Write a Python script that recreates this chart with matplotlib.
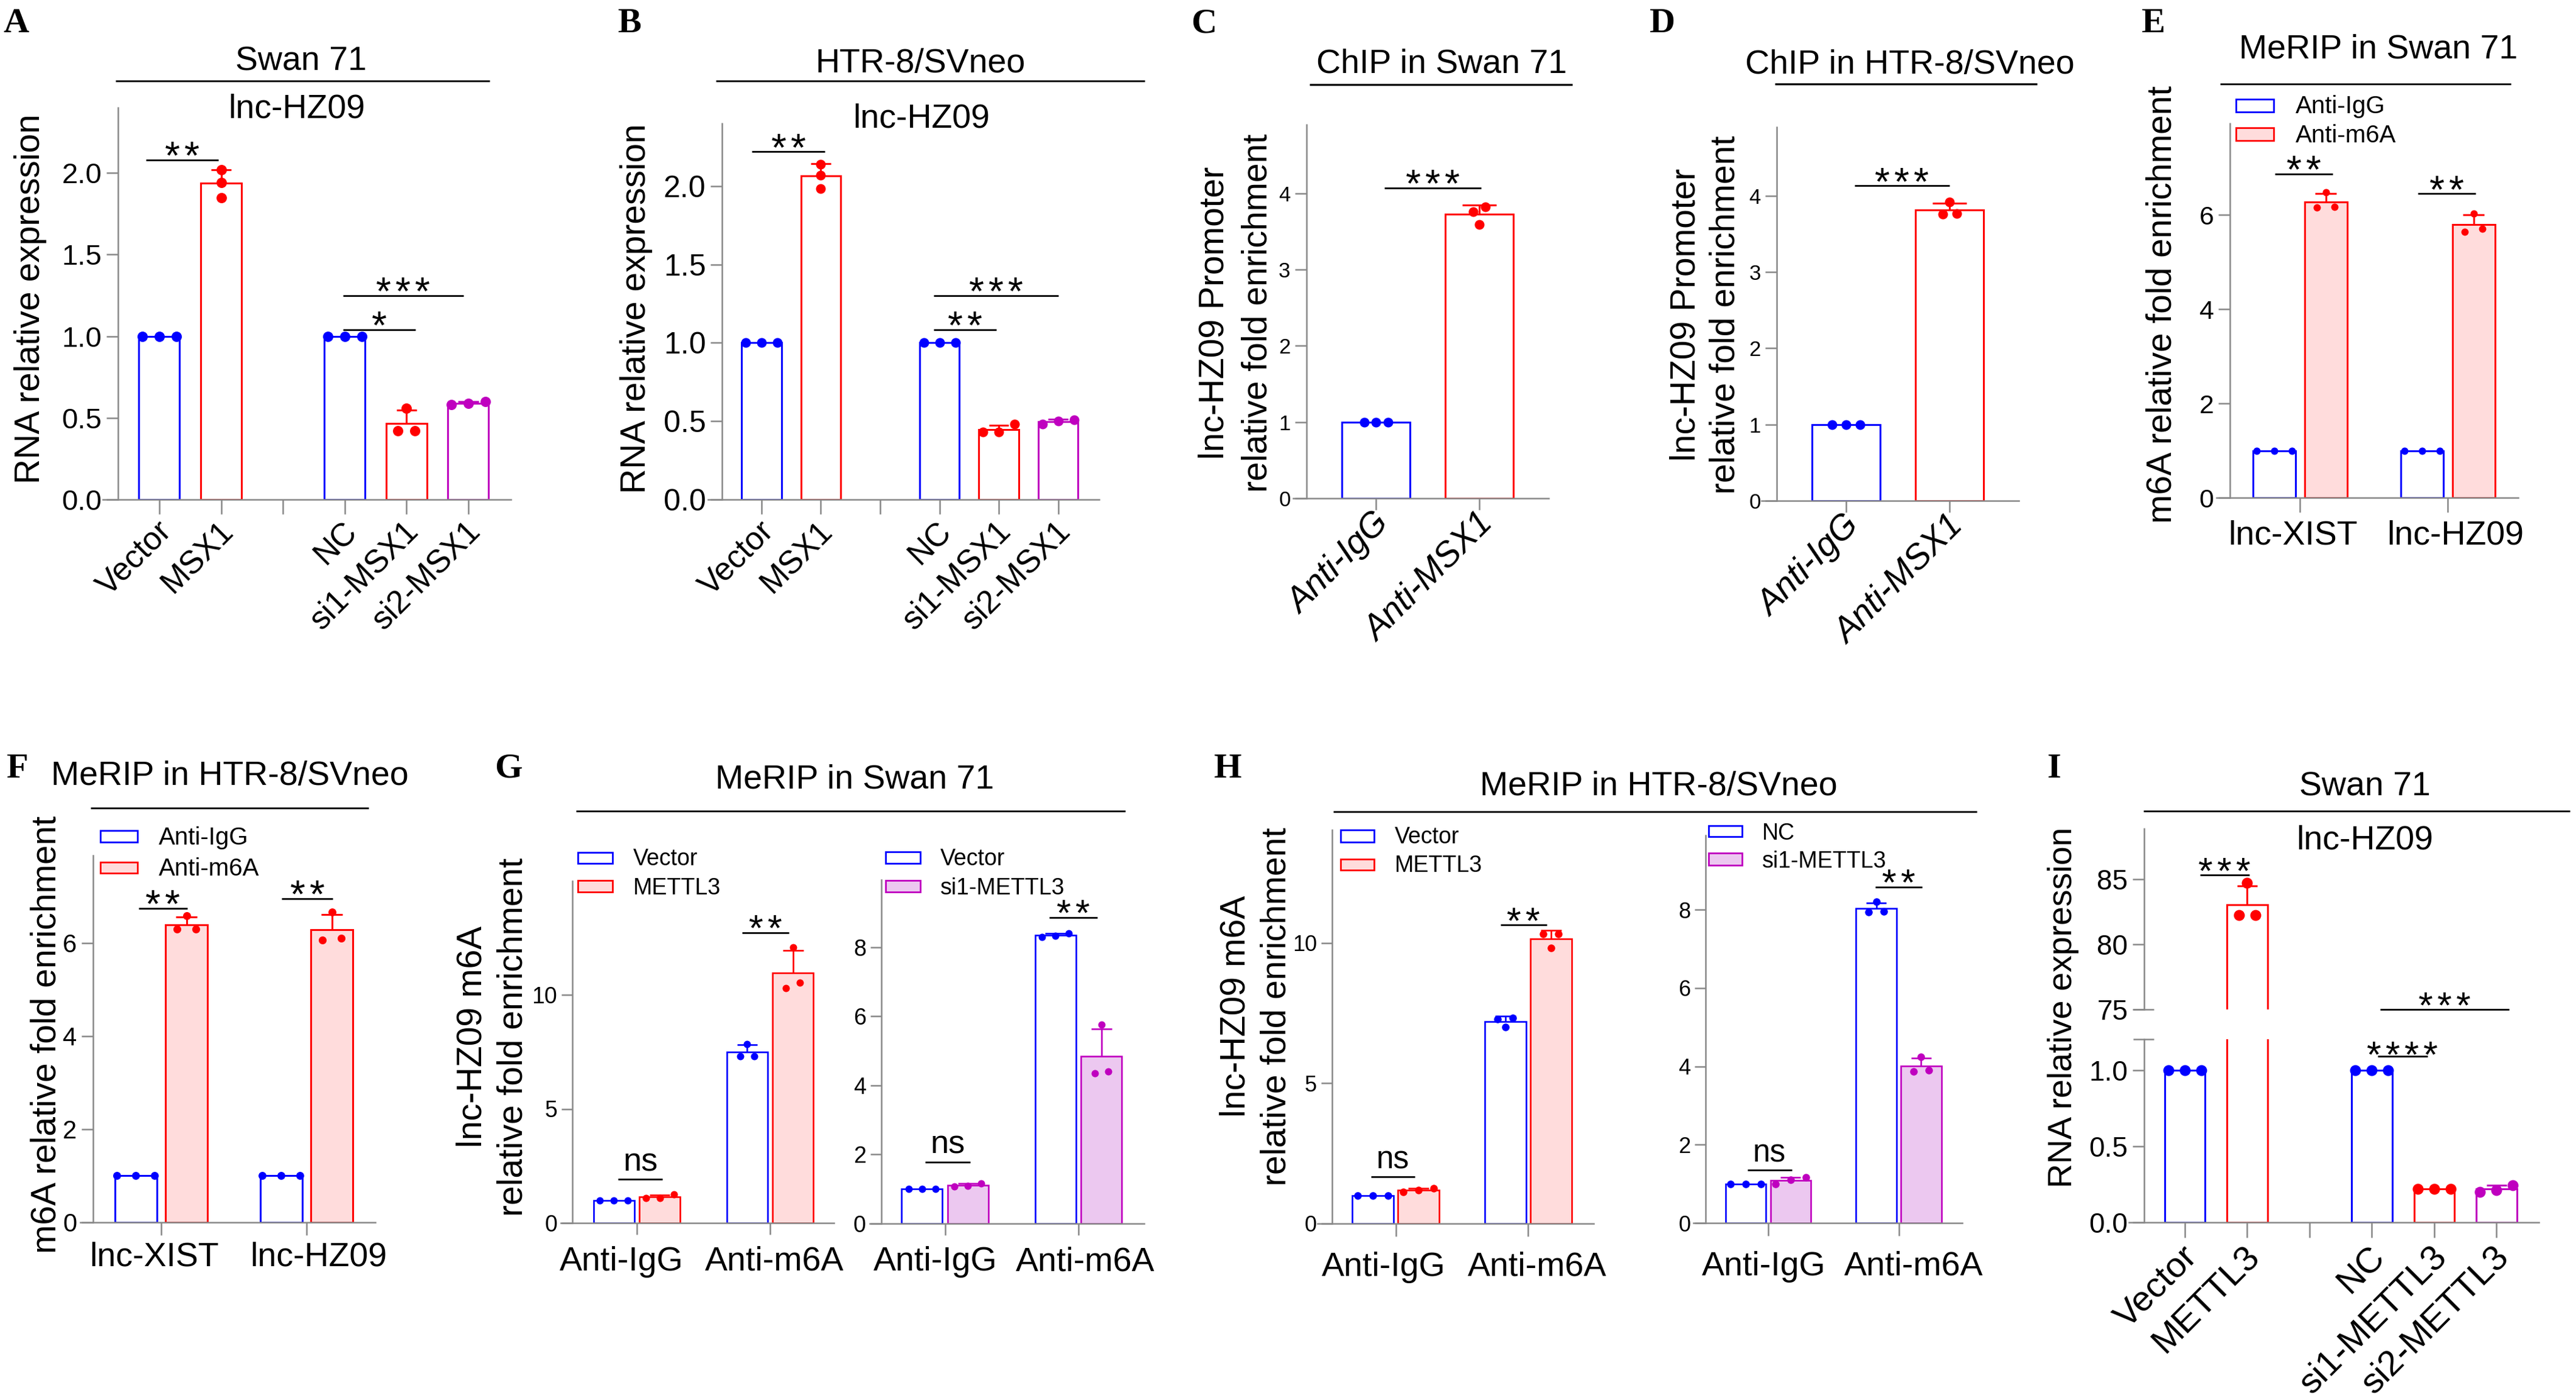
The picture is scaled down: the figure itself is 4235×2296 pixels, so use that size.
import numpy as np
import matplotlib
matplotlib.use('Agg')
import matplotlib.pyplot as plt
from matplotlib.patches import Rectangle
from matplotlib.lines import Line2D
from matplotlib.transforms import ScaledTranslation

plt.rcParams['font.family'] = ['Liberation Sans', 'DejaVu Sans']
plt.rcParams['axes.unicode_minus'] = False

# ======================= DATA =======================
A_labels = ['Vector', 'MSX1', 'NC', 'si1-MSX1', 'si2-MSX1']
A_values = [[1.0, 1.0, 1.0], [2.02, 1.94, 1.85], [1.0, 1.0, 1.0], [0.56, 0.42, 0.42], [0.58, 0.60, 0.59]]
A_sig = [('**', -0.22, 0.96, 2.08), ('***', 2.97, 4.92, 1.25), ('*', 2.97, 4.14, 1.04)]

B_labels = ['Vector', 'MSX1', 'NC', 'si1-MSX1', 'si2-MSX1']
B_values = [[1.0, 1.0, 1.0], [2.14, 2.07, 1.985], [1.0, 1.0, 1.0], [0.48, 0.43, 0.43], [0.48, 0.51, 0.50]]
B_sig = [('**', -0.16, 1.07, 2.22), ('***', 2.9, 5.0, 1.30), ('**', 2.9, 3.96, 1.085)]

C_labels = ['Anti-IgG', 'Anti-MSX1']
C_values = [[1.0, 1.0, 1.0], [3.82, 3.76, 3.59]]
C_sig = [('***', 0.08, 1.02, 4.07)]

D_labels = ['Anti-IgG', 'Anti-MSX1']
D_values = [[1.0, 1.0, 1.0], [3.92, 3.77, 3.76]]
D_sig = [('***', 0.08, 1.0, 4.13)]

E_groups = ['lnc-XIST', 'lnc-HZ09']
E_series = ['Anti-IgG', 'Anti-m6A']
E_igg = [[1.0, 1.0, 1.0], [1.0, 1.0, 1.0]]
E_m6a = [[6.48, 6.16, 6.17], [6.03, 5.64, 5.71]]
E_sig = [('**', -0.17, 0.22, 6.87), ('**', 0.80, 1.19, 6.45)]

F_groups = ['lnc-XIST', 'lnc-HZ09']
F_series = ['Anti-IgG', 'Anti-m6A']
F_igg = [[1.0, 1.0, 1.0], [1.0, 1.0, 1.0]]
F_m6a = [[6.59, 6.30, 6.30], [6.67, 6.07, 6.10]]
F_sig = [('**', -0.155, 0.18, 6.74), ('**', 0.83, 1.18, 6.95)]

G_groups = ['Anti-IgG', 'Anti-m6A']
G1_series = ['Vector', 'METTL3']
G1_vector = [[1.0, 1.0, 1.0], [7.85, 7.32, 7.32]]
G1_mettl3 = [[1.10, 1.25, 1.10], [12.08, 10.30, 10.53]]
G1_sig = [('ns', -0.14, 0.19, 1.91), ('**', 0.79, 1.14, 12.73)]
G2_series = ['Vector', 'si1-METTL3']
G2_vector = [[1.0, 1.0, 1.0], [8.30, 8.40, 8.33]]
G2_si1 = [[1.07, 1.17, 1.10], [5.76, 4.35, 4.40]]
G2_sig = [('ns', -0.15, 0.19, 1.78), ('**', 0.78, 1.14, 8.86)]

H_groups = ['Anti-IgG', 'Anti-m6A']
H1_series = ['Vector', 'METTL3']
H1_vector = [[1.0, 1.0, 1.0], [7.33, 7.29, 7.00]]
H1_mettl3 = [[1.12, 1.25, 1.20], [10.32, 10.32, 9.82]]
H1_sig = [('ns', -0.185, 0.144, 1.67), ('**', 0.79, 1.14, 10.64)]
H2_series = ['NC', 'si1-METTL3']
H2_nc = [[1.0, 1.0, 1.0], [8.20, 7.94, 7.95]]
H2_si1 = [[1.16, 1.00, 1.10], [4.24, 3.87, 3.90]]
H2_sig = [('ns', -0.16, 0.18, 1.35), ('**', 0.82, 1.18, 8.58)]

I_labels = ['Vector', 'METTL3', 'NC', 'si1-METTL3', 'si2-METTL3']
I_values = [[1.0, 1.0, 1.0], [84.72, 82.25, 82.25], [1.0, 1.0, 1.0], [0.22, 0.22, 0.22], [0.20, 0.245, 0.21]]
I_sig_upper = [('***', 0.24, 1.03, 85.34), ('***', 3.13, 5.2, 75.0)]
I_sig_lower = [('****', 3.09, 3.89, 1.09)]

# ======================= STYLE / HELPERS =======================
W, H, DPI = 4235, 2296, 100
fig = plt.figure(figsize=(W / DPI, H / DPI), dpi=DPI)
fig.patch.set_facecolor('white')

BLUE = '#0000FF'; RED = '#FF0000'; MAG = '#BF00BF'
PINK = '#FFDCDC'; VIOL = '#ECC8F0'; GRAY = '#888888'
SP_LW = 1.8


def setup_ax(rect, xlim, ylim, spine_x, yticks, yticklabels, yfs, xtl=14, ytl=14, show_bottom=True):
    l, r, t, b = rect
    ax = fig.add_axes([l / W, 1 - b / H, (r - l) / W, (b - t) / H])
    ax.set_xlim(*xlim)
    ax.set_ylim(*ylim)
    ax.patch.set_visible(False)
    ax.spines['top'].set_visible(False)
    ax.spines['right'].set_visible(False)
    ax.spines['left'].set_position(('data', spine_x))
    for s in ('left', 'bottom'):
        ax.spines[s].set_color(GRAY)
        ax.spines[s].set_linewidth(SP_LW)
    if not show_bottom:
        ax.spines['bottom'].set_visible(False)
        ax.set_xticks([])
    ax.set_yticks(yticks)
    ax.set_yticklabels(yticklabels)
    ax.tick_params(axis='y', length=ytl, width=SP_LW, color=GRAY, labelsize=yfs, pad=5)
    ax.tick_params(axis='x', length=xtl, width=SP_LW, color=GRAY)
    return ax


def px_scale(ax):
    p0 = ax.transData.transform((0.0, 0.0))
    p1 = ax.transData.transform((1.0, 1.0))
    return p1[0] - p0[0], p1[1] - p0[1]


def jitter(v, thr):
    order = np.argsort(v)
    offs = np.zeros(len(v))
    groups, cur = [], [order[0]]
    for i in order[1:]:
        if v[i] - v[cur[-1]] < thr:
            cur.append(i)
        else:
            groups.append(cur)
            cur = [i]
    groups.append(cur)
    for g in groups:
        n = len(g)
        o = np.arange(n) - (n - 1) / 2.0
        for k, idx in enumerate(g):
            offs[idx] = o[k]
    return offs


def bar(ax, x, vals, color, fill, width, dot_px, spread_px, lw=2.2):
    v = np.asarray(vals, float)
    m = v.mean()
    sd = v.std(ddof=1)
    sx, sy = px_scale(ax)
    ax.bar(x, m, width, color=fill, edgecolor=color, linewidth=lw, zorder=2)
    if sd > 1e-6:
        ax.plot([x, x], [m, m + sd], color=color, lw=lw, zorder=3, solid_capstyle='butt')
        ax.plot([x - 0.25 * width, x + 0.25 * width], [m + sd, m + sd], color=color, lw=lw,
                zorder=3, solid_capstyle='butt')
    offs = jitter(v, dot_px / sy) * spread_px / sx
    ax.plot(x + offs, v, linestyle='none', marker='o', color=color, ms=dot_px * 0.72,
            mec='none', zorder=4)


def sig(ax, items, fs=46, pitch_px=32, above_px=22, fs_ns=38, lw=2.0):
    em = fs / 0.72
    for txt, x1, x2, y in items:
        ax.plot([x1, x2], [y, y], color='black', lw=lw, clip_on=False, solid_capstyle='butt', zorder=5)
        xc = (x1 + x2) / 2
        if txt == 'ns':
            ax.annotate(txt, (xc, y), xytext=(0, 0.26 * fs_ns), textcoords='offset points',
                        ha='center', va='baseline', fontsize=fs_ns, annotation_clip=False)
        else:
            n = len(txt)
            for k in range(n):
                dx = (k - (n - 1) / 2.0) * pitch_px * 0.72
                dy = (above_px - 0.57 * em) * 0.72
                ax.annotate('*', (xc, y), xytext=(dx, dy), textcoords='offset points',
                            ha='center', va='baseline', fontsize=fs, annotation_clip=False)


def rot_labels(ax, pos, labels, fs, pad, dx_px, italic=False):
    ax.set_xticks(pos)
    ax.tick_params(axis='x', pad=pad)
    ax.set_xticklabels(labels, rotation=45, ha='right', va='center', rotation_mode='anchor',
                       fontsize=fs, style='italic' if italic else 'normal')
    off = ScaledTranslation(dx_px / DPI, 0, fig.dpi_scale_trans)
    for t in ax.get_xticklabels():
        t.set_transform(t.get_transform() + off)


def flat_labels(ax, labels, fs, pad, dxs):
    ax.set_xticks(list(range(len(labels))))
    ax.tick_params(axis='x', pad=pad)
    ax.set_xticklabels(labels, fontsize=fs)
    for t, d in zip(ax.get_xticklabels(), dxs):
        t.set_transform(t.get_transform() + ScaledTranslation(d / DPI, 0, fig.dpi_scale_trans))


def ftext(x, y, s, fs, ha='center', va='baseline', **kw):
    fig.text(x / W, 1 - y / H, s, fontsize=fs, ha=ha, va=va, **kw)


def fline(x1, x2, y, lw=2.0, color='black'):
    fig.add_artist(Line2D([x1 / W, x2 / W], [1 - y / H, 1 - y / H], color=color, lw=lw,
                          solid_capstyle='butt'))


def legend_item(x1, x2, y1, y2, ec, fc, text, tx, tyc, fs):
    fig.add_artist(Rectangle((x1 / W, 1 - y2 / H), (x2 - x1) / W, (y2 - y1) / H,
                             transform=fig.transFigure, facecolor=fc, edgecolor=ec, linewidth=2.0))
    ftext(tx, tyc + 0.358 * fs / 0.72, text, fs, ha='left')


def ylab(xc, yc, s, fs=41, ls=1.2):
    fig.text(xc / W, 1 - yc / H, s, rotation=90, ha='center', va='center', fontsize=fs,
             multialignment='center', linespacing=ls)


def letter(x, y, s):
    ftext(x, y, s, 42, ha='left', family=['Liberation Serif', 'DejaVu Serif'], weight='bold')


def with_gap(labels):
    return labels[:2] + [''] + labels[2:]


XS5 = [0, 1, 3, 4, 5]
COL5 = [BLUE, RED, BLUE, RED, MAG]

# ======================= PANEL A =======================
axA = setup_ax((169, 840, 177, 821), (-0.915, 5.69), (0, 2.4), -0.669,
               [0, 0.5, 1, 1.5, 2], ['0.0', '0.5', '1.0', '1.5', '2.0'], 34, xtl=17)
for x, v, c in zip(XS5, A_values, COL5):
    bar(axA, x, v, c, 'white', 0.66, 17, 28)
rot_labels(axA, list(range(6)), with_gap(A_labels), 38, 15, 12)
sig(axA, A_sig)
ylab(50, 491, 'RNA relative expression', 41)
ftext(495, 116, 'Swan 71', 40)
fline(190, 805, 133)
ftext(488, 194, 'lnc-HZ09', 40)
letter(5, 53, 'A')

# ======================= PANEL B =======================
axB = setup_ax((1164, 1807, 203, 821), (-0.90, 5.69), (0, 2.4), -0.666,
               [0, 0.5, 1, 1.5, 2], ['0.0', '0.5', '1.0', '1.5', '2.0'], 36, xtl=17)
for x, v, c in zip(XS5, B_values, COL5):
    bar(axB, x, v, c, 'white', 0.67, 16, 26)
rot_labels(axB, list(range(6)), with_gap(B_labels), 38, 15, 12)
sig(axB, B_sig)
ylab(1046, 507, 'RNA relative expression', 41)
ftext(1513, 119, 'HTR-8/SVneo', 40)
fline(1177, 1882, 133)
ftext(1515, 209, 'lnc-HZ09', 40)
letter(1015, 53, 'B')

# ======================= PANEL C =======================
axC = setup_ax((2126, 2546, 205, 819), (-0.8, 1.67), (0, 4.9), -0.671,
               [0, 1, 2, 3, 4], ['0', '1', '2', '3', '4'], 25, xtl=14)
for x, v, c in zip([0, 1], C_values, [BLUE, RED]):
    bar(axC, x, v, c, 'white', 0.663, 16, 19.5)
rot_labels(axC, [0, 1], C_labels, 41, 10, 14, italic=True)
sig(axC, C_sig)
ylab(2032, 514, 'lnc-HZ09 Promoter\nrelative fold enrichment', 41, ls=1.4)
ftext(2370, 119, 'ChIP in Swan 71', 40)
fline(2153, 2585, 139, lw=2.4)
letter(1958, 53, 'C')

# ======================= PANEL D =======================
axD = setup_ax((2896, 3319, 209, 823), (-0.818, 1.67), (0, 4.9), -0.67,
               [0, 1, 2, 3, 4], ['0', '1', '2', '3', '4'], 25, xtl=14)
for x, v, c in zip([0, 1], D_values, [BLUE, RED]):
    bar(axD, x, v, c, 'white', 0.663, 16, 23)
rot_labels(axD, [0, 1], D_labels, 41, 10, 14, italic=True)
sig(axD, D_sig)
ylab(2804, 517, 'lnc-HZ09 Promoter\nrelative fold enrichment', 41, ls=1.27)
ftext(3140, 121, 'ChIP in HTR-8/SVneo', 40)
fline(2918, 3349, 138, lw=2.4)
letter(2712, 53, 'D')

# ======================= PANEL E =======================
axE = setup_ax((3644, 4140, 203, 818), (-0.564, 1.477), (0, 7.94), -0.473,
               [0, 2, 4, 6], ['0', '2', '4', '6'], 31, xtl=17)
for g in range(2):
    bar(axE, g - 0.175, E_igg[g], BLUE, 'white', 0.288, 12, 29)
    bar(axE, g + 0.175, E_m6a[g], RED, PINK, 0.288, 12, 29)
flat_labels(axE, E_groups, 40, 9, [-11, 13])
sig(axE, E_sig)
ylab(3555, 500, 'm6A relative fold enrichment', 41)
ftext(3910, 95, 'MeRIP in Swan 71', 40)
fline(3650, 4128, 138)
legend_item(3676, 3738, 163, 184, BLUE, 'white', E_series[0], 3774, 172, 29)
legend_item(3676, 3738, 210, 231, RED, PINK, E_series[1], 3774, 220, 29)
letter(3521, 53, 'E')

# ======================= PANEL F =======================
axF = setup_ax((132, 617, 1406, 2009), (-0.556, 1.473), (0, 7.88), -0.469,
               [0, 2, 4, 6], ['0', '2', '4', '6'], 30, xtl=15)
for g in range(2):
    bar(axF, g - 0.175, F_igg[g], BLUE, 'white', 0.289, 13, 31)
    bar(axF, g + 0.175, F_m6a[g], RED, PINK, 0.289, 13, 31)
flat_labels(axF, F_groups, 40, 8, [-11, 20])
sig(axF, F_sig)
ylab(77, 1700, 'm6A relative fold enrichment', 41)
ftext(378, 1290, 'MeRIP in HTR-8/SVneo', 40)
fline(149, 606, 1328)
legend_item(165, 226, 1365, 1384, BLUE, 'white', F_series[0], 261, 1374, 29)
legend_item(165, 226, 1417, 1435, RED, PINK, F_series[1], 261, 1425, 29)
letter(11, 1278, 'F')

# ======================= PANEL G =======================
axG1 = setup_ax((922, 1371, 1447.5, 2010), (-0.571, 1.479), (0, 15), -0.484,
                [0, 5, 10], ['0', '5', '10'], 27, xtl=14, ytl=13)
for g in range(2):
    bar(axG1, g - 0.172, G1_vector[g], BLUE, 'white', 0.306, 12, 23, lw=1.9)
    bar(axG1, g + 0.172, G1_mettl3[g], RED, PINK, 0.306, 12, 23, lw=1.9)
flat_labels(axG1, G_groups, 40, 13, [-25, 7])
sig(axG1, G1_sig, fs=44, pitch_px=31, fs_ns=39)
legend_item(950, 1007, 1401, 1419, BLUE, 'white', G1_series[0], 1041, 1409, 27)
legend_item(950, 1007, 1447, 1466, RED, PINK, G1_series[1], 1041, 1457, 27)

axG2 = setup_ax((1430, 1881, 1446, 2011), (-0.563, 1.492), (0, 9.95), -0.477,
                [0, 2, 4, 6, 8], ['0', '2', '4', '6', '8'], 27, xtl=14, ytl=13)
for g in range(2):
    bar(axG2, g - 0.172, G2_vector[g], BLUE, 'white', 0.306, 12, 22, lw=1.9)
    bar(axG2, g + 0.172, G2_si1[g], MAG, VIOL, 0.306, 12, 22, lw=1.9)
flat_labels(axG2, G_groups, 40, 13, [-16, 11])
sig(axG2, G2_sig, fs=44, pitch_px=31, fs_ns=39)
legend_item(1456, 1513, 1400, 1419, BLUE, 'white', G2_series[0], 1546, 1409, 27)
legend_item(1456, 1513, 1447, 1466, MAG, VIOL, G2_series[1], 1546, 1457, 27)

ylab(810, 1704, 'lnc-HZ09 m6A\nrelative fold enrichment', 41, ls=1.33)
ftext(1405, 1295, 'MeRIP in Swan 71', 40)
fline(947, 1850, 1333)
letter(813, 1278, 'G')

# ======================= PANEL H =======================
axH1 = setup_ax((2166, 2620, 1364, 2011), (-0.591, 1.494), (0, 14.03), -0.481,
                [0, 5, 10], ['0', '5', '10'], 26, xtl=15, ytl=13)
for g in range(2):
    bar(axH1, g - 0.172, H1_vector[g], BLUE, 'white', 0.31, 12.5, 25, lw=1.9)
    bar(axH1, g + 0.172, H1_mettl3[g], RED, PINK, 0.31, 12.5, 25, lw=1.9)
flat_labels(axH1, H_groups, 40, 18, [-20, 15])
sig(axH1, H1_sig, fs=44, pitch_px=31, fs_ns=37)
legend_item(2204, 2259, 1364, 1384, BLUE, 'white', H1_series[0], 2293, 1373, 27)
legend_item(2204, 2259, 1412, 1430, RED, PINK, H1_series[1], 2293, 1420, 27)

axH2 = setup_ax((2784, 3226, 1373, 2010), (-0.573, 1.487), (0, 9.9), -0.478,
                [0, 2, 4, 6, 8], ['0', '2', '4', '6', '8'], 26, xtl=15, ytl=13)
for g in range(2):
    bar(axH2, g - 0.172, H2_nc[g], BLUE, 'white', 0.31, 12.5, 25, lw=1.9)
    bar(axH2, g + 0.172, H2_si1[g], MAG, VIOL, 0.31, 12.5, 25, lw=1.9)
flat_labels(axH2, H_groups, 40, 18, [-7, 25])
sig(axH2, H2_sig, fs=44, pitch_px=31, fs_ns=37)
legend_item(2809, 2864, 1357, 1375, BLUE, 'white', H2_series[0], 2897, 1367, 27)
legend_item(2809, 2864, 1402, 1422, MAG, VIOL, H2_series[1], 2897, 1413, 27)

ylab(2065, 1654, 'lnc-HZ09 m6A\nrelative fold enrichment', 41, ls=1.33)
ftext(2727, 1307, 'MeRIP in HTR-8/SVneo', 40)
fline(2192, 3250, 1334)
letter(1996, 1278, 'H')

# ======================= PANEL I =======================
axIu = setup_ax((3500, 4174, 1362, 1659.4), (-0.898, 5.68), (75, 88.9), -0.656,
                [75, 80, 85], ['75', '80', '85'], 33, show_bottom=False)
axIl = setup_ax((3500, 4174, 1707.7, 2008.8), (-0.898, 5.68), (0, 1.204), -0.656,
                [0, 0.5, 1.0], ['0.0', '0.5', '1.0'], 33, xtl=18)
for axx in (axIu, axIl):
    for x, v, c in zip(XS5, I_values, COL5):
        bar(axx, x, v, c, 'white', 0.65, 18, 27)
rot_labels(axIl, list(range(6)), with_gap(I_labels), 42, 17, 12)
sig(axIu, I_sig_upper, fs=44, pitch_px=31)
sig(axIl, I_sig_lower, fs=44, pitch_px=31, above_px=18)
fline(3507, 3541, 1659.4, lw=SP_LW, color=GRAY)
fline(3507, 3541, 1707.7, lw=SP_LW, color=GRAY)
ylab(3392, 1656, 'RNA relative expression', 40)
ftext(3888, 1307, 'Swan 71', 40)
fline(3524, 4225, 1333)
ftext(3888, 1395, 'lnc-HZ09', 40)
letter(3366, 1278, 'I')

fig.savefig('out.png', dpi=DPI, facecolor='white')
